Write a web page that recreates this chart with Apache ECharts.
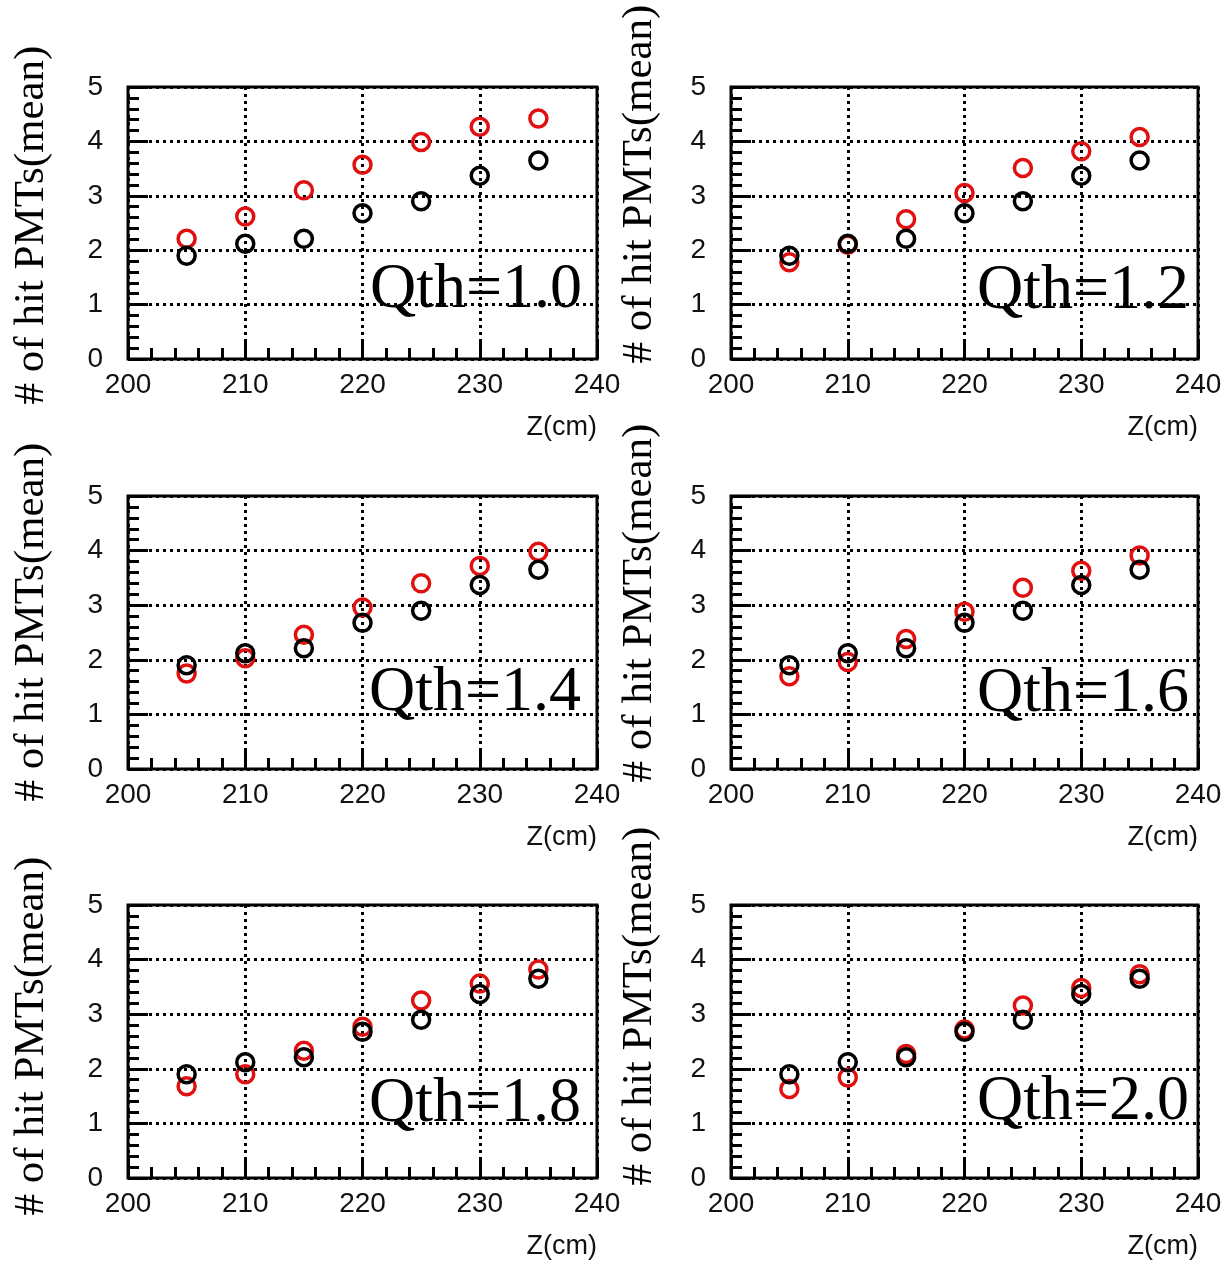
<!DOCTYPE html>
<html>
<head>
<meta charset="utf-8">
<script src="https://cdn.jsdelivr.net/npm/echarts@6/dist/echarts.min.js"></script>
<style>
  html, body { margin: 0; padding: 0; background: #ffffff; }
  #chart { width: 1230px; height: 1261px; }
</style>
</head>
<body>
<div id="chart"></div>
<script>
// Beam position along the detector axis (cm)
const zPositions = [205, 210, 215, 220, 225, 230, 235];

// Mean number of hit PMTs, reference sample (black markers, same in every panel)
const hitsReference = [1.90, 2.12, 2.21, 2.68, 2.90, 3.37, 3.65];

// Mean number of hit PMTs for each charge threshold (red markers)
const hitsQth10 = [2.21, 2.62, 3.10, 3.57, 3.99, 4.27, 4.42];
const hitsQth12 = [1.78, 2.10, 2.57, 3.05, 3.51, 3.82, 4.08];
const hitsQth14 = [1.75, 2.03, 2.46, 2.96, 3.40, 3.72, 3.98];
const hitsQth16 = [1.70, 1.96, 2.38, 2.88, 3.32, 3.63, 3.91];
const hitsQth18 = [1.68, 1.90, 2.33, 2.77, 3.25, 3.56, 3.82];
const hitsQth20 = [1.63, 1.84, 2.27, 2.72, 3.16, 3.48, 3.73];

const panelLabels = ['Qth=1.0', 'Qth=1.2', 'Qth=1.4', 'Qth=1.6', 'Qth=1.8', 'Qth=2.0'];
const panelSeries = [hitsQth10, hitsQth12, hitsQth14, hitsQth16, hitsQth18, hitsQth20];

// Axis ranges and tick spacing
const zRange = [200, 240];
const zStep = 10;
const hitsRange = [0, 5];
const hitsStep = 1;

const yTitle = '# of hit PMTs(mean)';
const xTitle = 'Z(cm)';

// Frame boxes of the 3x2 layout (pixels)
const frames = [
  { left: 128, top: 87,  width: 469, height: 272 },
  { left: 731, top: 87,  width: 467, height: 272 },
  { left: 128, top: 496, width: 469, height: 273 },
  { left: 731, top: 496, width: 467, height: 273 },
  { left: 128, top: 905, width: 469, height: 273 },
  { left: 731, top: 905, width: 467, height: 273 }
];
// Placement of the vertical titles and the threshold labels
const titleCenters = [[32, 225], [640, 184], [32, 622], [640, 603], [32, 1036], [640, 1006]];
const labelInset = [15, 9, 16, 9, 16, 9];
const labelLift = [14, 13, 21, 20, 19, 21];

const RED = '#e01010';
const INK = '#000000';
const SERIF = '"Liberation Serif", "Times New Roman", serif';
const SANS = '"Liberation Sans", Helvetica, Arial, sans-serif';

const grids = [], xAxes = [], yAxes = [], series = [], graphics = [];

frames.forEach((f, i) => {
  grids.push({
    left: f.left, top: f.top, width: f.width, height: f.height,
    show: true, borderColor: INK, borderWidth: 3, backgroundColor: 'transparent'
  });

  xAxes.push({
    type: 'value', gridIndex: i,
    min: zRange[0], max: zRange[1], interval: zStep,
    name: xTitle, nameLocation: 'end', nameGap: 0,
    nameTextStyle: {
      fontFamily: SANS, fontSize: 27, color: '#111111',
      align: 'right', verticalAlign: 'top', padding: [55, 0, 0, 0]
    },
    axisLine: { show: false },
    axisTick: { show: true, inside: true, length: 20, lineStyle: { color: INK, width: 3 } },
    minorTick: { show: true, splitNumber: 5, length: 11, lineStyle: { color: INK, width: 3 } },
    splitLine: { show: true, lineStyle: { color: INK, width: 3, type: [3, 4] } },
    axisLabel: { fontFamily: SANS, fontSize: 28, color: '#111111', margin: 12 }
  });

  yAxes.push({
    type: 'value', gridIndex: i,
    min: hitsRange[0], max: hitsRange[1], interval: hitsStep,
    axisLine: { show: false },
    axisTick: { show: true, inside: true, length: 20, lineStyle: { color: INK, width: 3 } },
    minorTick: { show: true, splitNumber: 5, length: 11, lineStyle: { color: INK, width: 3 } },
    splitLine: { show: true, lineStyle: { color: INK, width: 3, type: [3, 4] } },
    axisLabel: { fontFamily: SANS, fontSize: 28, color: '#111111', margin: 25 }
  });

  const marker = (color) => ({
    type: 'scatter', xAxisIndex: i, yAxisIndex: i,
    symbol: 'circle', symbolSize: 17,
    itemStyle: { color: 'rgba(0,0,0,0)', borderColor: color, borderWidth: 3.5, opacity: 1 },
    emphasis: { disabled: true },
    silent: true
  });

  series.push(Object.assign(marker(RED), {
    name: panelLabels[i],
    data: zPositions.map((z, k) => [z, panelSeries[i][k]])
  }));
  series.push(Object.assign(marker(INK), {
    name: 'reference',
    data: zPositions.map((z, k) => [z, hitsReference[k]])
  }));

  // vertical axis title
  graphics.push({
    type: 'text', x: titleCenters[i][0], y: titleCenters[i][1], rotation: Math.PI / 2,
    style: {
      text: yTitle, font: '43px ' + SERIF, fill: INK,
      textAlign: 'center', textVerticalAlign: 'middle'
    },
    silent: true
  });

  // threshold label inside the frame, sitting on the y = 1 grid line
  const yOne = f.top + f.height * (1 - 1 / hitsRange[1]);
  graphics.push({
    type: 'text', x: f.left + f.width - labelInset[i], y: yOne - labelLift[i],
    style: {
      text: panelLabels[i], font: '64px ' + SERIF, fill: INK,
      textAlign: 'right', textVerticalAlign: 'middle'
    },
    z: 100, silent: true
  });
});

const chart = echarts.init(document.getElementById('chart'), null, { renderer: 'canvas' });
chart.setOption({
  animation: false,
  backgroundColor: '#ffffff',
  grid: grids,
  xAxis: xAxes,
  yAxis: yAxes,
  series: series,
  graphic: graphics
});
</script>
</body>
</html>
